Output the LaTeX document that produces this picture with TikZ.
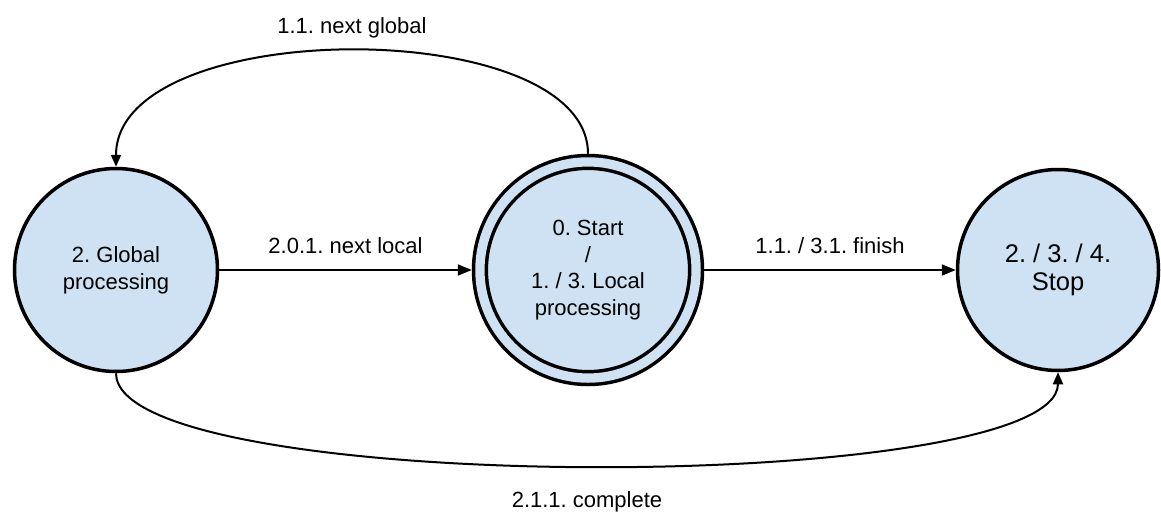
\documentclass[tikz,border=0pt]{standalone}
\usepackage{fontspec}
\setmainfont{Liberation Sans}
\usetikzlibrary{arrows.meta}
\definecolor{statefill}{HTML}{CFE2F3}
\frenchspacing
\begin{document}
\begin{tikzpicture}[x=1pt, y=-1pt,
  state/.style={circle, draw=black, line width=3.5pt, fill=statefill,
    inner sep=0pt, align=center, font=\fontsize{22}{27}\selectfont},
  link/.style={line width=2pt, -{Triangle[length=14pt,width=11pt]}},
  curvelink/.style={line width=2pt, -{Triangle[length=12pt,width=10pt]}},
  lbl/.style={anchor=base, font=\fontsize{22}{26}\selectfont}
]
\useasboundingbox (0,0) rectangle (1161,522);

% states
\node[state, minimum size=203pt] (glob) at (116,270) {2. Global\\processing};
\node[state, minimum size=216.2pt, double=statefill, double distance=9.3pt,
      outer sep=8.15pt, font=\fontsize{22}{26.5}\selectfont]
      (loc) at (588,270) {0. Start\\/\\1. / 3. Local\\processing};
\node[state, minimum size=201pt, font=\fontsize{25.5}{28.5}\selectfont]
      (stop) at (1058,270) {2. / 3. / 4.\\Stop};

% transitions
\draw[link] (glob.east) -- node[midway, lbl, yshift=17pt] {2.0.1. next local} (loc.west);
\draw[link] (loc.east) -- node[midway, lbl, yshift=17pt] {1.1. / 3.1. finish} (stop.west);
\draw[curvelink] (loc.north) .. controls +(0,-140) and +(0,-152) ..
      node[midway, lbl, yshift=17pt] {1.1. next global} (glob.north);
\draw[curvelink] (glob.south) .. controls +(0,124) and +(0,124) ..
      node[midway, lbl, yshift=-42pt] {2.1.1. complete} (stop.south);
\end{tikzpicture}
\end{document}
